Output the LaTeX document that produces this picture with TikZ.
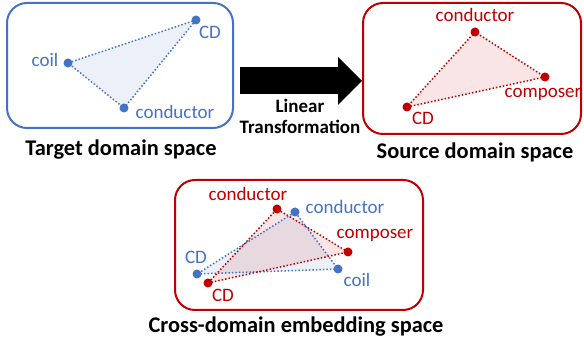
\documentclass[tikz,border=0pt]{standalone}
\usepackage{fontspec}
\setmainfont{Carlito}
\usetikzlibrary{calc,arrows.meta}
\definecolor{tgtblue}{HTML}{4472C4}
\definecolor{srcred}{HTML}{C00000}
\tikzset{
  spacebox/.style={draw, line width=2pt, rounded corners=20pt, inner sep=0pt},
  dotpt/.style={circle, fill, inner sep=0pt, minimum size=9pt},
  word/.style={font=\fontsize{19}{19}\selectfont, inner sep=0pt},
  title/.style={font=\fontsize{22.4}{22.4}\selectfont\bfseries, inner sep=0pt},
  link/.style={dotted, line width=1.5pt},
  shade/.style={fill opacity=0.1},
}

\begin{document}
\begin{tikzpicture}[x=1pt,y=-1pt]
        \useasboundingbox (0,0) rectangle (584,344);

        % the three spaces
        \node[spacebox, tgtblue, minimum width=226pt, minimum height=125pt] (target) at (120,65.5) {};
        \node[spacebox, srcred, minimum width=218pt, minimum height=131pt] (source) at (472,68.5) {};
        \node[spacebox, srcred, minimum width=248pt, minimum height=130pt] (cross) at (299,245) {};

        \node[title] (targetlbl) at (121,150) {Target domain space};
        \node[title] (sourcelbl) at (475,152) {Source domain space};
        \node[title] (crosslbl) at (296,327) {Cross-domain embedding space};

        % transformation arrow
        \coordinate (arrS) at (240,81);
        \draw[line width=27pt, -{Triangle[length=24pt, width=48pt, line width=0pt]}] (arrS) -- (arrS -| source.west);
        \node[font=\fontsize{19}{21}\selectfont\bfseries, align=center, inner sep=0pt] (lintext) at (300,116.5) {Linear\\Transformation};

        % point positions
        \foreach \n/\x/\y in {tcd/196/20, tcoil/68/63, tcond/124/108,
                              xtcond/295/212, xtcoil/338/269, xtcd/197/274,
                              scond/475/32, scomp/545/77, scd/407/107,
                              xscond/277/209, xscomp/348/252, xscd/208/283}
            \coordinate (\n) at (\x,\y);

        % triangles
        \fill[tgtblue, shade] (tcd) -- (tcoil) -- (tcond) -- cycle;
        \fill[tgtblue, shade] (xtcd) -- (xtcoil) -- (xtcond) -- cycle;
        \fill[srcred, shade] (scd) -- (scomp) -- (scond) -- cycle;
        \fill[srcred, shade] (xscd) -- (xscomp) -- (xscond) -- cycle;

        \draw[tgtblue, link] (tcd) -- (tcoil) -- (tcond) -- cycle;
        \draw[tgtblue, link] (xtcd) -- (xtcoil) -- (xtcond) -- cycle;
        \draw[srcred, link] (scd) -- (scomp) -- (scond) -- cycle;
        \draw[srcred, link] (xscd) -- (xscomp) -- (xscond) -- cycle;

        \foreach \n in {tcd,tcoil,tcond,xtcond,xtcoil,xtcd}
            \node[dotpt, tgtblue] (\n dot) at (\n) {};
        \foreach \n in {scond,scomp,scd,xscond,xscomp,xscd}
            \node[dotpt, srcred] (\n dot) at (\n) {};

        % word labels
        \node[word, tgtblue] (tcdlbl) at (210,32) {CD};
        \node[word, tgtblue] (tcoillbl) at (45,60) {coil};
        \node[word, tgtblue] (tcondlbl) at (175,112) {conductor};

        \node[word, srcred] (scondlbl) at (475,15) {conductor};
        \node[word, srcred] (scomplbl) at (543,94) {composer};
        \node[word, srcred] (scdlbl) at (423,118) {CD};

        \node[word, srcred] (xscondlbl) at (248,194) {conductor};
        \node[word, tgtblue] (xtcondlbl) at (345,207) {conductor};
        \node[word, srcred] (xscomplbl) at (375,235) {composer};
        \node[word, tgtblue] (xtcdlbl) at (196,257) {CD};
        \node[word, tgtblue] (xtcoillbl) at (357,280) {coil};
        \node[word, srcred] (xscdlbl) at (223,295) {CD};
\end{tikzpicture}
\end{document}
